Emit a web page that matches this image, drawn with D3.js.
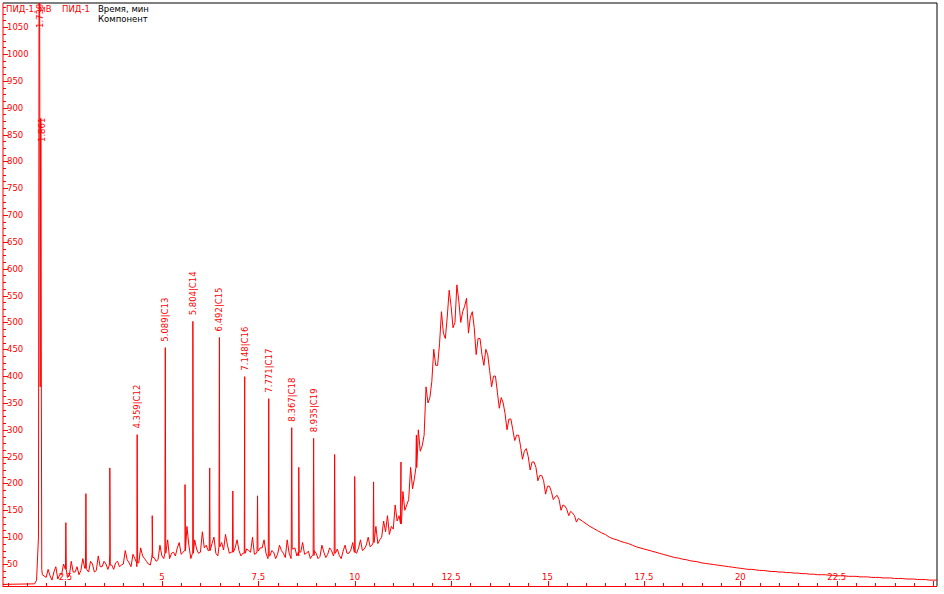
<!DOCTYPE html>
<html><head><meta charset="utf-8">
<script src="https://cdn.jsdelivr.net/npm/d3@7"></script>
<style>body{margin:0;background:#fff}text{font-family:Tahoma,"DejaVu Sans",sans-serif;font-size:8.5px}</style>
</head><body>
<svg id="chart" width="944" height="594"></svg>
<script>
// baseline samples every 0.1 min starting at 1.9
var baseStart = 1.9, baseStep = 0.1;
var baseValues = [
 30,25,28,35,22,30,40,28,35,45,38,
 42,35,50,38,45,55,40,48,52,45,
 50,58,45,60,52,65,55,48,62,58,
 65,70,60,72,80,68,75,85,70,78,
 72,80,75,88,70,82,76,85,72,80,
 75,70,78,72,68,74,80,70,65,72,
 68,75,62,70,78,65,72,68,74,66,
 70,64,72,68,75,70,66,74,70,76,
 72,80,75,85,82,90,88,100,110,105,
 115,130,125,150,170,190,230,260,290,350,
 390,420,460,480,510,530,500,540,520,545,
 510,490,470,440,450,410,400,370,360,330,
 320,300,290,270,260,250,240,230,215,205,
 195,185,175,170,160,152,148,140,135,130,
 125,120,116,112,108,105,100,97,95,92,
 90,88,85,82,80,78,76,74,72,70,
 68,66,64,62,61,59,58,56,55,54,
 52,51,50,49,48,47,46,45,44,43,
 42,41,40,40,39,38,38,37,36,36,
 35,35,34,34,33,33,32,32,31,31,
 30,30,30,29,29,28,28,28,27,27,
 27,26,26,26,25,25,25,24,24,24,
 23,23,23,22,22,22,21,21,21,20,20,20
];
// mid-sample values (at +0.05 min) between baseline samples, 2.0 .. 15.0
var midStart = 2.05;
var midValues = [
 40,20,45,30,50,25,55,35,30,
 60,40,55,35,65,45,50,70,40,55,
 48,75,52,68,45,80,60,50,72,55,
 85,60,95,70,65,90,72,120,60,95,
 70,110,85,78,100,65,90,105,70,85,
 95,65,85,75,100,70,80,95,60,75,
 60,85,70,95,60,80,65,90,70,60,
 75,60,85,62,80,65,78,60,85,70,
 90,70,95,78,100,85,120,95,130,140,
 120,160,140,185,160,230,210,300,270,380,
 360,450,420,520,470,560,490,570,500,530,
 480,520,440,470,420,440,380,400,340,350,
 300,320,280,290,245,265,225,240,205,215,
 180,195,170,178,150,158,140,145,128
];
// solvent front
var solventT = [0.85,1.70,1.75,1.80,1.815,1.83,1.845,1.855,1.865,1.875,1.885];
var solventV = [12,13,20,100,1120,1120,380,880,880,350,40];
// peaks: retention time, apex height
var peakT = [2.51,3.03,3.65,4.359,4.75,5.089,5.6,5.804,6.24,6.492,6.84,7.148,7.48,7.771,8.367,8.55,8.935,9.48,10.0,10.49,11.2,11.6];
var peakV = [127,181,229,291,140,453,198,502,229,472,186,399,177,358,304,230,284,254,213,203,240,290];
// labelled components
var labelT = [4.359,5.089,5.804,6.492,7.148,7.771,8.367,8.935];
var labelV = [291,453,502,472,399,358,304,284];
var labelText = ["4.359|C12","5.089|C13","5.804|C14","6.492|C15","7.148|C16","7.771|C17","8.367|C18","8.935|C19"];
var xTicks = [2.5,5,7.5,10,12.5,15,17.5,20,22.5];

var svg = d3.select('#chart');
var x = d3.scaleLinear().domain([0.88, 25.1]).range([3, 937]);
var y = d3.scaleLinear().domain([9, 1095]).range([586, 3]);

function baseAt(t) {
    var i = Math.round((t - baseStart) / baseStep);
    i = Math.max(0, Math.min(baseValues.length - 1, i));
    return baseValues[i];
}
var pts = [];
solventT.forEach(function(t, i) { pts.push([t, solventV[i]]); });
baseValues.forEach(function(v, i) { pts.push([baseStart + i * baseStep, v]); });
midValues.forEach(function(v, i) { pts.push([midStart + i * baseStep, v]); });
peakT.forEach(function(t, i) {
    pts.push([t - 0.012, baseAt(t)], [t, peakV[i]], [t + 0.012, baseAt(t)]);
});
pts.sort(function(a, b) { return a[0] - b[0]; });

svg.append('clipPath').attr('id', 'clip').append('rect')
    .attr('x', 3).attr('y', 3).attr('width', 934).attr('height', 583);

// frame
svg.append('path').attr('d', 'M3,3H937V586').attr('fill', 'none').attr('stroke', '#000');

svg.append('path').datum(pts)
    .attr('clip-path', 'url(#clip)')
    .attr('fill', 'none').attr('stroke', '#f00').attr('stroke-width', 1)
    .attr('d', d3.line().x(function(d) { return x(d[0]); }).y(function(d) { return y(d[1]); }));

// y axis
var yAxis = svg.append('g').attr('stroke', '#f00');
yAxis.append('line').attr('x1', 3).attr('x2', 3).attr('y1', 3).attr('y2', 587);
d3.range(12.5, 1095, 12.5).forEach(function(v) {
    var major = v % 50 === 0;
    yAxis.append('line').attr('x1', 3).attr('x2', major ? 8 : 6)
        .attr('y1', Math.round(y(v)) + 0.5).attr('y2', Math.round(y(v)) + 0.5);
    if (major && v >= 50)
        svg.append('text').attr('x', 7).attr('y', y(v) + 3).attr('fill', '#f00').text(v);
});
// x axis
var xAxis = svg.append('g').attr('stroke', '#f00');
xAxis.append('line').attr('x1', 3).attr('x2', 937).attr('y1', 586.5).attr('y2', 586.5);
d3.range(1, 25.1, 0.5).forEach(function(t) {
    var major = t % 2.5 === 0;
    xAxis.append('line').attr('x1', Math.round(x(t)) + 0.5).attr('x2', Math.round(x(t)) + 0.5)
        .attr('y1', 586).attr('y2', major ? 581 : 583);
});
xTicks.forEach(function(t) {
    svg.append('text').attr('x', x(t)).attr('y', 580).attr('text-anchor', 'middle')
        .attr('fill', '#f00').text(t);
});

// component labels
labelT.forEach(function(t, i) {
    svg.append('text').attr('fill', '#f00')
        .attr('transform', 'translate(' + (x(t) + 3) + ',' + (y(labelV[i]) - 6) + ') rotate(-90)')
        .text(labelText[i]);
});
svg.append('text').attr('fill', '#f00').attr('transform', 'translate(' + (x(1.83) + 3) + ',28) rotate(-90)').text('1.739');
svg.append('text').attr('fill', '#f00').attr('transform', 'translate(' + (x(1.86) + 4) + ',142) rotate(-90)').text('1.861');

// header
svg.append('text').attr('x', 6).attr('y', 12).attr('fill', '#f00').text('ПИД-1, мВ');
svg.append('text').attr('x', 62).attr('y', 12).attr('fill', '#f00').text('ПИД-1');
svg.append('text').attr('x', 98).attr('y', 12).attr('fill', '#000').text('Время, мин');
svg.append('text').attr('x', 98).attr('y', 22).attr('fill', '#000').text('Компонент');
</script>
</body></html>
